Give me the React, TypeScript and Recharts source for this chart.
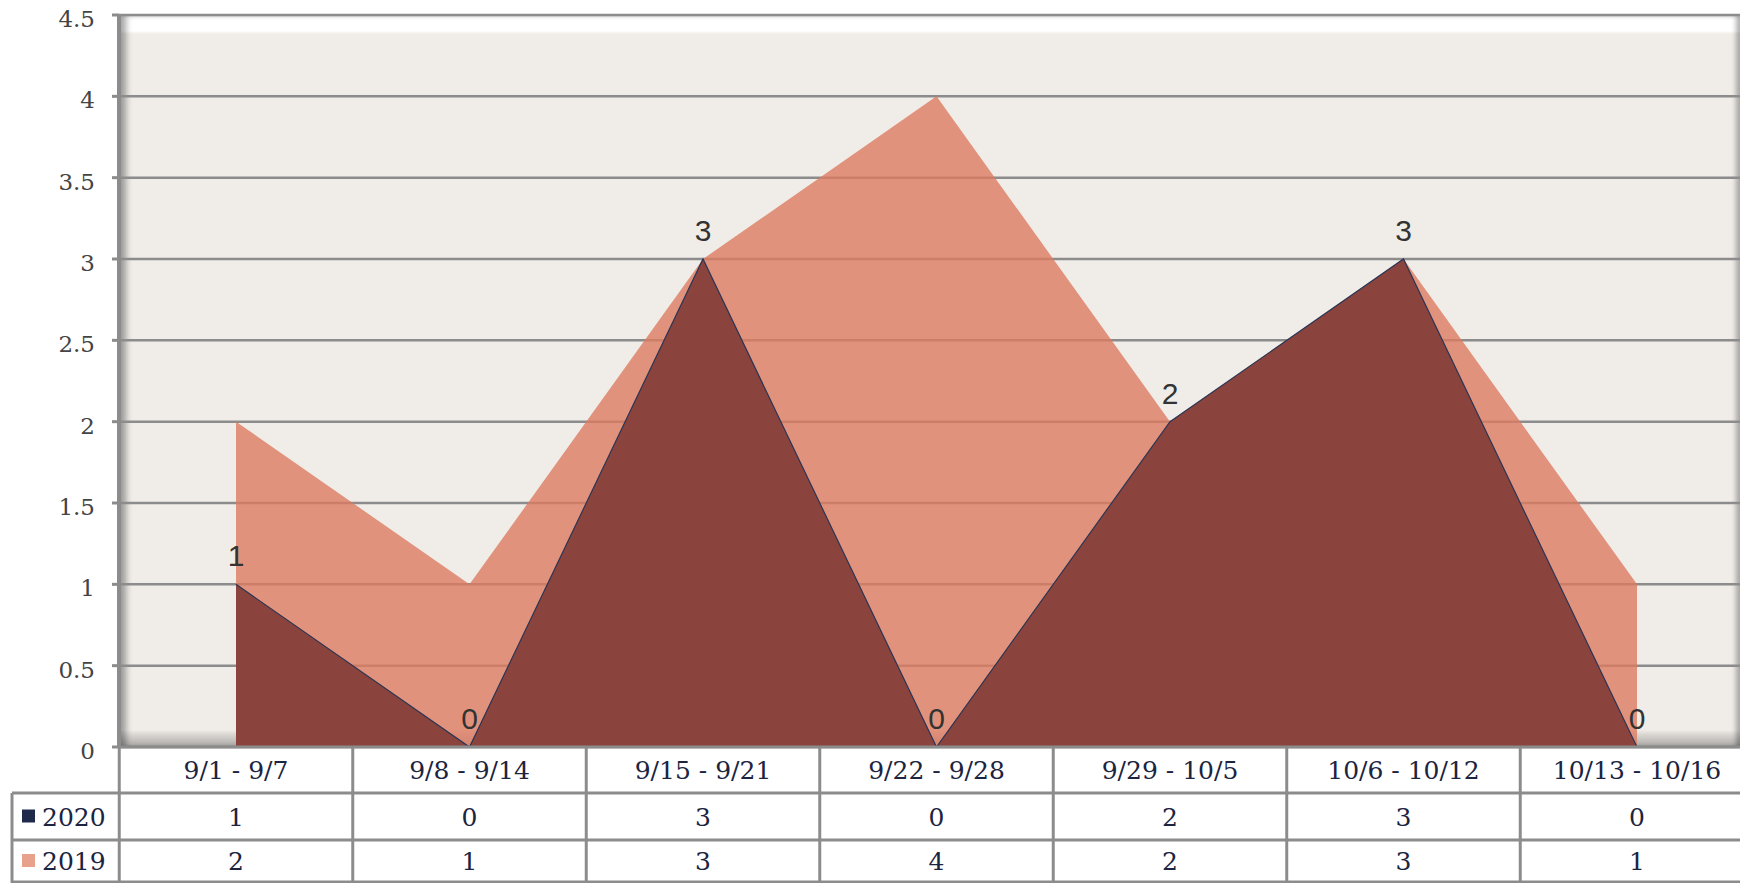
import { Area, AreaChart, CartesianGrid, LabelList, XAxis, YAxis } from "recharts";

const weeks = [
  "9/1 - 9/7",
  "9/8 - 9/14",
  "9/15 - 9/21",
  "9/22 - 9/28",
  "9/29 - 10/5",
  "10/6 - 10/12",
  "10/13 - 10/16",
];
const counts2020 = [1, 0, 3, 0, 2, 3, 0];
const counts2019 = [2, 1, 3, 4, 2, 3, 1];
const yTicks = [0, 0.5, 1, 1.5, 2, 2.5, 3, 3.5, 4, 4.5];

const data = weeks.map((week, i) => ({
  week,
  y2020: counts2020[i],
  y2019: counts2019[i],
}));

const COL_W = 233.5;
const GRID = "#8c8c8c";
const INK = "#1b2440";
const SERIF = "'DejaVu Serif', 'Liberation Serif', serif";

function TableTick(props: any) {
  const { x, y, payload, index } = props;
  const half = COL_W / 2;
  const left = x - half;
  const right = x + half;
  const rows = [
    { name: "2020", key: "#1f2a4a", value: counts2020[index] },
    { name: "2019", key: "#e8a28c", value: counts2019[index] },
  ];
  const rowY = [y + 69.5, y + 114];
  return (
    <g>
      {index === 0 && (
        <g>
          <line x1={left} x2={left} y1={y} y2={y + 140} stroke={GRID} strokeWidth={3} />
          <line x1={12} x2={12} y1={y + 46} y2={y + 140} stroke={GRID} strokeWidth={3} />
          <line x1={12} x2={left} y1={y + 46} y2={y + 46} stroke={GRID} strokeWidth={3} />
          <line x1={12} x2={left} y1={y + 93} y2={y + 93} stroke={GRID} strokeWidth={3} />
          <line x1={12} x2={left} y1={y + 135} y2={y + 135} stroke={GRID} strokeWidth={3} />
          {rows.map((r, k) => (
            <g key={r.name}>
              <rect x={22} y={rowY[k] - 7} width={13} height={13} fill={r.key} />
              <text
                x={42}
                y={rowY[k]}
                dy="0.36em"
                fill={INK}
                fontSize={25}
                fontFamily={SERIF}
              >
                {r.name}
              </text>
            </g>
          ))}
        </g>
      )}
      <line x1={right} x2={right} y1={y} y2={y + 140} stroke={GRID} strokeWidth={3} />
      <line x1={left} x2={right} y1={y} y2={y} stroke={GRID} strokeWidth={3} />
      <line x1={left} x2={right} y1={y + 46} y2={y + 46} stroke={GRID} strokeWidth={3} />
      <line x1={left} x2={right} y1={y + 93} y2={y + 93} stroke={GRID} strokeWidth={3} />
      <line x1={left} x2={right} y1={y + 135} y2={y + 135} stroke={GRID} strokeWidth={3} />
      <text
        x={x}
        y={y + 23}
        dy="0.36em"
        textAnchor="middle"
        fill={INK}
        fontSize={25}
        fontFamily={SERIF}
      >
        {payload.value}
      </text>
      {rows.map((r, k) => (
        <text
          key={r.name}
          x={x}
          y={rowY[k]}
          dy="0.36em"
          textAnchor="middle"
          fill={INK}
          fontSize={25}
          fontFamily={SERIF}
        >
          {r.value}
        </text>
      ))}
    </g>
  );
}

export default function App() {
  return (
    <div
      style={{
        position: "absolute",
        left: 0,
        top: 0,
        width: 1740,
        height: 883,
        overflow: "hidden",
        background: "#ffffff",
      }}
    >
      <div
        style={{
          position: "absolute",
          left: 120,
          top: 16,
          width: 1740 - 120,
          height: 747 - 16,
          background:
            "linear-gradient(to bottom, #ffffff 0px, #ffffff 15px, #f0ede8 18px, #f0ede8 calc(100% - 17px), #dcd9d5 calc(100% - 13px), #a8a6a4 100%)",
          boxShadow:
            "inset 8px 0 6px -2px rgba(0,0,0,0.35), inset -6px 0 5px -2px rgba(0,0,0,0.3)",
        }}
      />
      <div style={{ position: "absolute", left: 0, top: 0 }}>
        <AreaChart
          width={1754}
          height={883}
          data={data}
          margin={{ top: 15, right: 0, bottom: 0, left: 0 }}
        >
          <CartesianGrid vertical={false} stroke={GRID} strokeWidth={2.5} />
          <Area
            type="linear"
            dataKey="y2019"
            name="2019"
            fill="#dd7b60"
            fillOpacity={0.8}
            stroke="none"
            isAnimationActive={false}
          />
          <Area
            type="linear"
            dataKey="y2020"
            name="2020"
            fill="#8b443d"
            fillOpacity={1}
            stroke="#2b3553"
            strokeWidth={1.2}
            isAnimationActive={false}
          >
            <LabelList
              dataKey="y2020"
              position="top"
              offset={18}
              fill="#333333"
              fontSize={30}
              fontFamily="'Liberation Sans', Arial, sans-serif"
            />
          </Area>
          <XAxis
            dataKey="week"
            scale="point"
            padding={{ left: 117, right: 117 }}
            height={136}
            interval={0}
            tickLine={false}
            axisLine={false}
            tickSize={0}
            tickMargin={0}
            tick={<TableTick />}
          />
          <YAxis
            width={119}
            domain={[0, 4.5]}
            ticks={yTicks}
            interval={0}
            axisLine={{ stroke: GRID, strokeWidth: 4 }}
            tickLine={{ stroke: GRID, strokeWidth: 3 }}
            tickSize={7}
            tickMargin={17}
            tick={{ fill: "#444444", fontSize: 23, fontFamily: SERIF, dy: 4 }}
          />
        </AreaChart>
      </div>
    </div>
  );
}
